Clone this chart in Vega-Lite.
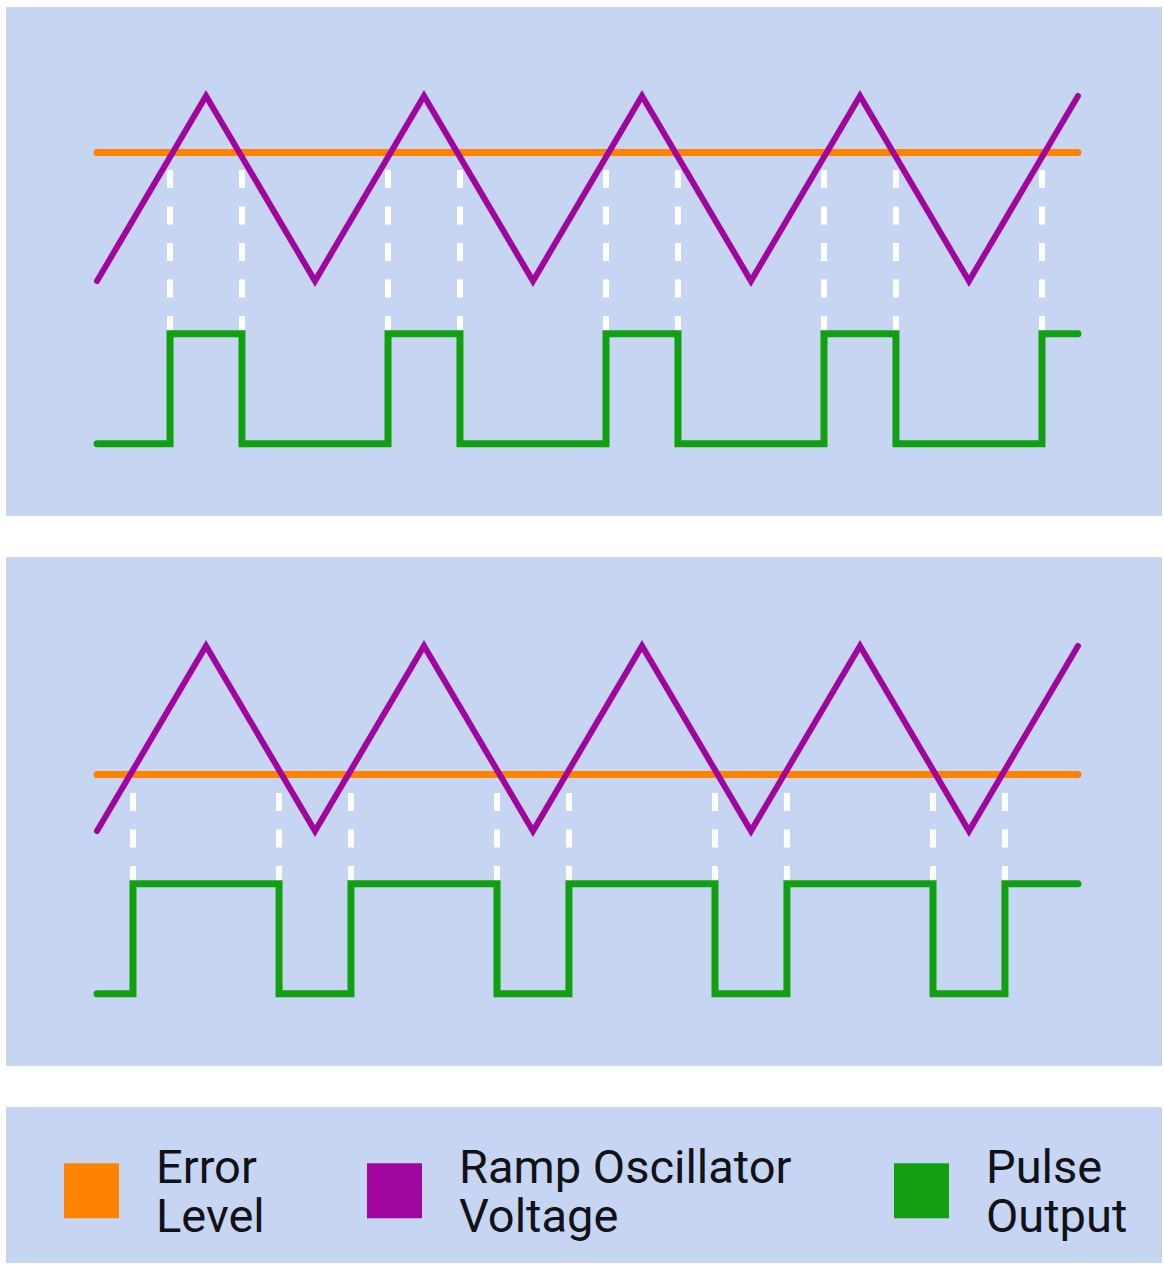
{
  "$schema": "https://vega.github.io/schema/vega-lite/v6.json",
  "padding": {"left": 6, "top": 7, "right": 2, "bottom": 2},
  "background": "#ffffff",
  "spacing": 41,
  "config": {"view": {"stroke": null}},
  "datasets": {
    "ramp": [
      {"series": "Ramp Oscillator Voltage", "t": 0, "v": -1},
      {"series": "Ramp Oscillator Voltage", "t": 1, "v": 1},
      {"series": "Ramp Oscillator Voltage", "t": 2, "v": -1},
      {"series": "Ramp Oscillator Voltage", "t": 3, "v": 1},
      {"series": "Ramp Oscillator Voltage", "t": 4, "v": -1},
      {"series": "Ramp Oscillator Voltage", "t": 5, "v": 1},
      {"series": "Ramp Oscillator Voltage", "t": 6, "v": -1},
      {"series": "Ramp Oscillator Voltage", "t": 7, "v": 1},
      {"series": "Ramp Oscillator Voltage", "t": 8, "v": -1},
      {"series": "Ramp Oscillator Voltage", "t": 9, "v": 1}
    ],
    "err1": [
      {"series": "Error Level", "t": 0, "v": 0.39},
      {"series": "Error Level", "t": 9, "v": 0.39}
    ],
    "err2": [
      {"series": "Error Level", "t": 0, "v": -0.39},
      {"series": "Error Level", "t": 9, "v": -0.39}
    ],
    "pulse1": [
      {"series": "Pulse Output", "t": 0, "v": -2.76},
      {"series": "Pulse Output", "t": 0.67, "v": -1.57},
      {"series": "Pulse Output", "t": 1.33, "v": -2.76},
      {"series": "Pulse Output", "t": 2.67, "v": -1.57},
      {"series": "Pulse Output", "t": 3.33, "v": -2.76},
      {"series": "Pulse Output", "t": 4.67, "v": -1.57},
      {"series": "Pulse Output", "t": 5.33, "v": -2.76},
      {"series": "Pulse Output", "t": 6.67, "v": -1.57},
      {"series": "Pulse Output", "t": 7.33, "v": -2.76},
      {"series": "Pulse Output", "t": 8.67, "v": -1.57},
      {"series": "Pulse Output", "t": 9, "v": -1.57}
    ],
    "pulse2": [
      {"series": "Pulse Output", "t": 0, "v": -2.76},
      {"series": "Pulse Output", "t": 0.33, "v": -1.57},
      {"series": "Pulse Output", "t": 1.67, "v": -2.76},
      {"series": "Pulse Output", "t": 2.33, "v": -1.57},
      {"series": "Pulse Output", "t": 3.67, "v": -2.76},
      {"series": "Pulse Output", "t": 4.33, "v": -1.57},
      {"series": "Pulse Output", "t": 5.67, "v": -2.76},
      {"series": "Pulse Output", "t": 6.33, "v": -1.57},
      {"series": "Pulse Output", "t": 7.67, "v": -2.76},
      {"series": "Pulse Output", "t": 8.33, "v": -1.57},
      {"series": "Pulse Output", "t": 9, "v": -1.57}
    ],
    "dash1": [
      {"t": 0.67, "top": 0.2, "bottom": -1.57},
      {"t": 1.33, "top": 0.2, "bottom": -1.57},
      {"t": 2.67, "top": 0.2, "bottom": -1.57},
      {"t": 3.33, "top": 0.2, "bottom": -1.57},
      {"t": 4.67, "top": 0.2, "bottom": -1.57},
      {"t": 5.33, "top": 0.2, "bottom": -1.57},
      {"t": 6.67, "top": 0.2, "bottom": -1.57},
      {"t": 7.33, "top": 0.2, "bottom": -1.57},
      {"t": 8.67, "top": 0.2, "bottom": -1.57}
    ],
    "dash2": [
      {"t": 0.33, "top": -0.59, "bottom": -1.57},
      {"t": 1.67, "top": -0.59, "bottom": -1.57},
      {"t": 2.33, "top": -0.59, "bottom": -1.57},
      {"t": 3.67, "top": -0.59, "bottom": -1.57},
      {"t": 4.33, "top": -0.59, "bottom": -1.57},
      {"t": 5.67, "top": -0.59, "bottom": -1.57},
      {"t": 6.33, "top": -0.59, "bottom": -1.57},
      {"t": 7.67, "top": -0.59, "bottom": -1.57},
      {"t": 8.33, "top": -0.59, "bottom": -1.57}
    ]
  },
  "vconcat": [
    {
      "width": 1156,
      "height": 509,
      "view": {"fill": "#c6d5f2", "stroke": null},
      "encoding": {
        "x": {"field": "t", "type": "quantitative", "axis": null, "scale": {"domain": [-0.835, 9.771], "nice": false, "zero": false}}
      },
      "layer": [
        {
          "data": {"name": "dash1"},
          "mark": {"type": "rule", "color": "#ffffff", "strokeWidth": 6, "strokeDash": [18, 18.5], "strokeCap": "butt"},
          "encoding": {
            "y": {"field": "top", "type": "quantitative", "axis": null, "scale": {"domain": [-3.5405, 1.9622], "nice": false, "zero": false}},
            "y2": {"field": "bottom"}
          }
        },
        {
          "data": {"name": "err1"},
          "mark": {"type": "line", "strokeWidth": 7, "strokeCap": "round"},
          "encoding": {
            "y": {"field": "v", "type": "quantitative", "axis": null, "scale": {"domain": [-3.5405, 1.9622], "nice": false, "zero": false}},
            "color": {"field": "series", "type": "nominal", "scale": {"domain": ["Error Level", "Ramp Oscillator Voltage", "Pulse Output"], "range": ["#ff8200", "#a0069e", "#10a010"]},
              "legend": {"title": null, "orient": "none", "legendX": 58, "legendY": 1156, "direction": "horizontal", "columns": 3, "columnPadding": 102, "padding": 0, "offset": 0,
                "symbolType": "square", "symbolSize": 3025, "symbolStrokeWidth": 0, "symbolOffset": 0, "labelOffset": 37,
                "labelFont": "Roboto", "labelFontSize": 47, "labelColor": "#111118", "labelLimit": 0,
                "labelExpr": "datum.label == 'Ramp Oscillator Voltage' ? ['Ramp Oscillator', 'Voltage'] : split(datum.label, ' ')",
                "encode": {
                  "symbols": {"update": {"fill": {"scale": "color", "field": "value"}, "opacity": {"value": 1}, "strokeWidth": {"value": 0}}},
                  "labels": {"update": {"dy": {"value": -22}, "lineHeight": {"value": 49}}}
                }}}
          }
        },
        {
          "data": {"name": "ramp"},
          "mark": {"type": "line", "strokeWidth": 6, "strokeCap": "round", "strokeJoin": "miter"},
          "encoding": {
            "y": {"field": "v", "type": "quantitative", "axis": null},
            "color": {"field": "series", "type": "nominal"}
          }
        },
        {
          "data": {"name": "pulse1"},
          "mark": {"type": "line", "strokeWidth": 7, "strokeCap": "round", "strokeJoin": "miter", "interpolate": "step-after"},
          "encoding": {
            "y": {"field": "v", "type": "quantitative", "axis": null},
            "color": {"field": "series", "type": "nominal"}
          }
        }
      ]
    },
    {
      "width": 1156,
      "height": 509,
      "view": {"fill": "#c6d5f2", "stroke": null},
      "encoding": {
        "x": {"field": "t", "type": "quantitative", "axis": null, "scale": {"domain": [-0.835, 9.771], "nice": false, "zero": false}}
      },
      "layer": [
        {
          "data": {"name": "dash2"},
          "mark": {"type": "rule", "color": "#ffffff", "strokeWidth": 6, "strokeDash": [18, 18.5], "strokeCap": "butt"},
          "encoding": {
            "y": {"field": "top", "type": "quantitative", "axis": null, "scale": {"domain": [-3.5405, 1.9622], "nice": false, "zero": false}},
            "y2": {"field": "bottom"}
          }
        },
        {
          "data": {"name": "err2"},
          "mark": {"type": "line", "strokeWidth": 7, "strokeCap": "round"},
          "encoding": {
            "y": {"field": "v", "type": "quantitative", "axis": null, "scale": {"domain": [-3.5405, 1.9622], "nice": false, "zero": false}},
            "color": {"field": "series", "type": "nominal"}
          }
        },
        {
          "data": {"name": "ramp"},
          "mark": {"type": "line", "strokeWidth": 6, "strokeCap": "round", "strokeJoin": "miter"},
          "encoding": {
            "y": {"field": "v", "type": "quantitative", "axis": null},
            "color": {"field": "series", "type": "nominal"}
          }
        },
        {
          "data": {"name": "pulse2"},
          "mark": {"type": "line", "strokeWidth": 7, "strokeCap": "round", "strokeJoin": "miter", "interpolate": "step-after"},
          "encoding": {
            "y": {"field": "v", "type": "quantitative", "axis": null},
            "color": {"field": "series", "type": "nominal"}
          }
        }
      ]
    },
    {
      "width": 1156,
      "height": 156,
      "view": {"fill": "#c6d5f2", "stroke": null},
      "data": {"values": [{"note": ""}]},
      "mark": {"type": "text"},
      "encoding": {"text": {"field": "note", "type": "nominal"}}
    }
  ]
}
